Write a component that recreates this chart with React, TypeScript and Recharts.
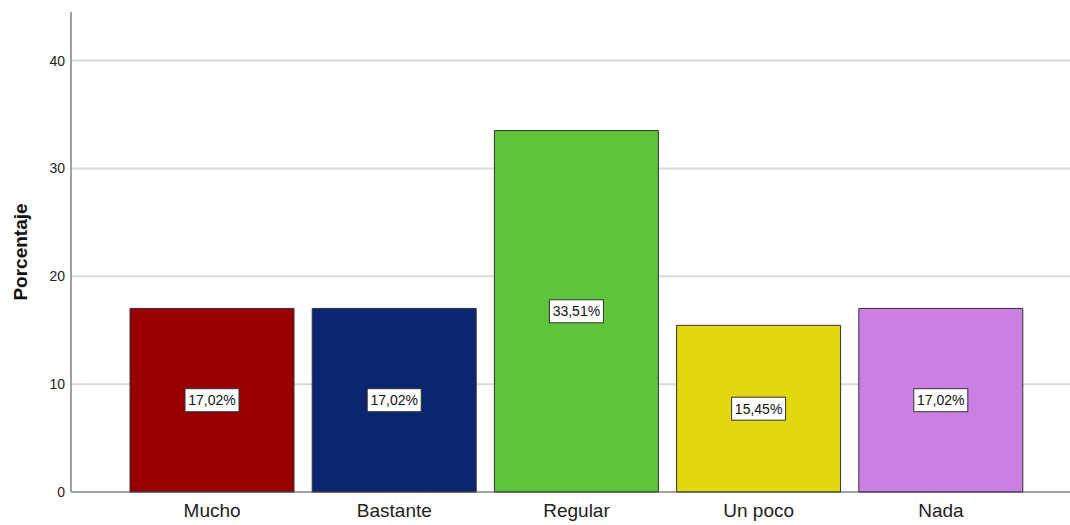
import { BarChart, Bar, XAxis, YAxis, CartesianGrid, Cell, LabelList, Label } from "recharts";

const categories = ["Mucho", "Bastante", "Regular", "Un poco", "Nada"];
const percentages = [17.02, 17.02, 33.51, 15.45, 17.02];
const barColors = ["#990000", "#0b2570", "#5ec43a", "#e1d80f", "#cb7fe3"];
const yTicks = [0, 10, 20, 30, 40];

const data = categories.map((name, i) => ({ name, value: percentages[i] }));

const fontFamily = "'Liberation Sans', Arial, sans-serif";

const ValueBox = (props: any) => {
  const { x, y, width, height, value } = props;
  const cx = x + width / 2;
  const cy = y + height / 2;
  const text = `${Number(value).toFixed(2).replace(".", ",")}%`;
  const w = 54;
  const h = 23;
  return (
    <g>
      <rect x={cx - w / 2} y={cy - h / 2} width={w} height={h} fill="#ffffff" stroke="#333333" strokeWidth={1} />
      <text x={cx} y={cy + 5} textAnchor="middle" fontSize={14} fontFamily={fontFamily} fill="#111111">
        {text}
      </text>
    </g>
  );
};

const YTitle = (props: any) => {
  const { viewBox } = props;
  const cy = viewBox.y + viewBox.height / 2;
  return (
    <text
      x={0}
      y={0}
      transform={`translate(27, ${cy}) rotate(-90)`}
      textAnchor="middle"
      fontSize={19}
      fontWeight={700}
      fontFamily={fontFamily}
      fill="#111111"
    >
      Porcentaje
    </text>
  );
};

export default function App() {
  return (
    <div style={{ position: "absolute", left: 0, top: 0, width: 1070, height: 525, background: "#ffffff" }}>
      <BarChart
        width={1070}
        height={525}
        data={data}
        margin={{ top: 12, right: 0, bottom: 0, left: 0 }}
        barCategoryGap={9}
      >
        <CartesianGrid
          vertical={false}
          horizontalValues={yTicks.filter((t) => t > 0)}
          stroke="#d9d9d9"
          strokeWidth={2}
        />
        <XAxis
          dataKey="name"
          height={33}
          padding={{ left: 50, right: 38 }}
          tickLine={false}
          tickMargin={6}
          axisLine={{ stroke: "#444444", strokeWidth: 1 }}
          tick={{ fontSize: 19, fill: "#222222", fontFamily }}
        />
        <YAxis
          width={71}
          domain={[0, 44.5]}
          ticks={yTicks}
          tickLine={false}
          tickMargin={0}
          axisLine={{ stroke: "#a0a0a0", strokeWidth: 2 }}
          tick={{ fontSize: 14, fill: "#222222", fontFamily }}
        >
          <Label content={<YTitle />} />
        </YAxis>
        <Bar dataKey="value" stroke="#333333" strokeWidth={1} isAnimationActive={false}>
          {data.map((d, i) => (
            <Cell key={d.name} fill={barColors[i]} />
          ))}
          <LabelList dataKey="value" content={<ValueBox />} />
        </Bar>
      </BarChart>
    </div>
  );
}
